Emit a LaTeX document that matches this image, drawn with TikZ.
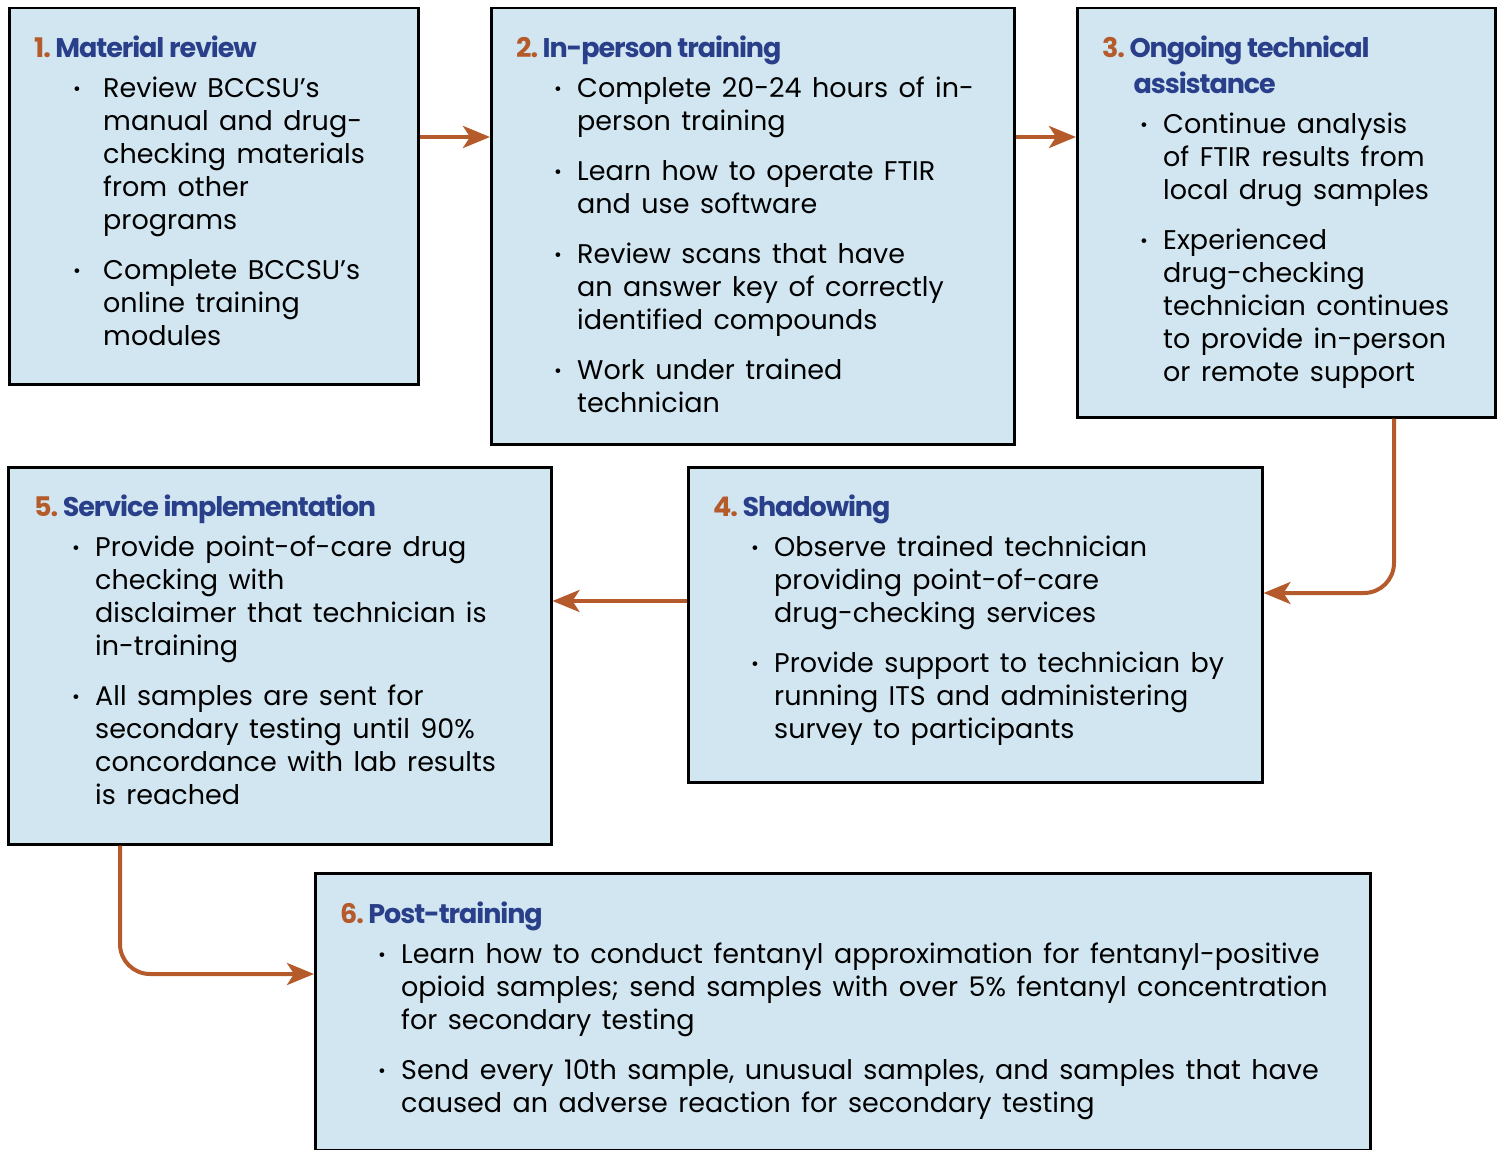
\documentclass[tikz,border=0pt]{standalone}
\usepackage{fontspec}
\setmainfont{Poppins}[WordSpace=1.45]
\newfontfamily\headfont[LetterSpace=-4]{Poppins}
\usetikzlibrary{arrows.meta}

\definecolor{boxblue}{HTML}{D1E6F1}
\definecolor{headblue}{HTML}{2A3F8A}
\definecolor{rust}{HTML}{B55A2A}

% heading: rust number, blue title
\newcommand\heading[2]{{\headfont\bfseries\color{rust}#1}\,{\headfont\bfseries\color{headblue}#2}}
% bullet lines and their continuation lines
\newcommand\dotmark{{\fontsize{19}{19}\selectfont\raisebox{2.5pt}{•}}}
\def\bx{38pt}\def\bw{23pt}
\newcommand\itm[1]{\hspace*{\bx}\makebox[\bw][l]{\dotmark}#1}
\newcommand\cont[1]{\hspace*{\dimexpr\bx+\bw\relax}#1}

\begin{document}
\begin{tikzpicture}[x=1pt,y=-1pt,
	stage/.style={draw=black,line width=2.5pt,fill=boxblue,anchor=north west,inner sep=0pt},
	body/.style={anchor=north west,inner sep=0pt,align=left,font=\fontsize{27}{33}\selectfont},
	flow/.style={draw=rust,line width=4pt,rounded corners=30pt,-{Stealth[length=27pt,width=22pt,inset=7pt]}}]
	\useasboundingbox (0,0) rectangle (1501,1150);

	% the six stages
	\node[stage,minimum width=409,minimum height=376] (s1) at (8,7) {};
	\node[stage,minimum width=523,minimum height=436] (s2) at (490,7) {};
	\node[stage,minimum width=418,minimum height=409] (s3) at (1076,7) {};
	\node[stage,minimum width=574,minimum height=315] (s4) at (687,466) {};
	\node[stage,minimum width=543,minimum height=377] (s5) at (7,466) {};
	\node[stage,minimum width=1055,minimum height=277] (s6) at (314,872) {};

	\def\bx{39pt}\def\bw{30pt}
	\node[body] (t1) at (34,36) {\heading{1.}{Material review}\\[7pt]
		\itm{Review BCCSU’s}\\ \cont{manual and drug-}\\ \cont{checking materials}\\ \cont{from other}\\ \cont{programs}\\[17pt]
		\itm{Complete BCCSU’s}\\ \cont{online training}\\ \cont{modules}};
	\def\bx{38pt}\def\bw{23pt}
	\node[body] (t2) at (516,36) {\heading{2.}{In-person training}\\[7pt]
		\itm{Complete 20-24 hours of in-}\\ \cont{person training}\\[17pt]
		\itm{Learn how to operate FTIR}\\ \cont{and use software}\\[17pt]
		\itm{Review scans that have}\\ \cont{an answer key of correctly}\\ \cont{identified compounds}\\[17pt]
		\itm{Work under trained}\\ \cont{technician}};
	\node[body] (t3) at (1102,36) {\heading{3.}{Ongoing technical}\\[3pt]
		\hphantom{\heading{3.}{}}\hspace{4pt}{\headfont\bfseries\color{headblue}assistance}\\[7pt]
		\itm{Continue analysis}\\ \cont{of FTIR results from}\\ \cont{local drug samples}\\[17pt]
		\itm{Experienced}\\ \cont{drug-checking}\\ \cont{technician continues}\\ \cont{to provide in-person}\\ \cont{or remote support}};
	\node[body] (t4) at (713,495) {\heading{4.}{Shadowing}\\[7pt]
		\itm{Observe trained technician}\\ \cont{providing point-of-care}\\ \cont{drug-checking services}\\[17pt]
		\itm{Provide support to technician by}\\ \cont{running ITS and administering}\\ \cont{survey to participants}};
	\node[body] (t5) at (34,495) {\heading{5.}{Service implementation}\\[7pt]
		\itm{Provide point-of-care drug}\\ \cont{checking with}\\ \cont{disclaimer that technician is}\\ \cont{in-training}\\[17pt]
		\itm{All samples are sent for}\\ \cont{secondary testing until 90\%}\\ \cont{concordance with lab results}\\ \cont{is reached}};
	\node[body] (t6) at (340,902) {\heading{6.}{Post-training}\\[7pt]
		\itm{Learn how to conduct fentanyl approximation for fentanyl-positive}\\ \cont{opioid samples; send samples with over 5\% fentanyl concentration}\\ \cont{for secondary testing}\\[17pt]
		\itm{Send every 10th sample, unusual samples, and samples that have}\\ \cont{caused an adverse reaction for secondary testing}};

	% connectors
	\coordinate (r12) at (0,137);
	\coordinate (r34) at (1394,593);
	\coordinate (r45) at (0,601);
	\coordinate (r56) at (120,974);
	\draw[flow] (s1.east |- r12) -- (s2.west |- r12);
	\draw[flow] (s2.east |- r12) -- (s3.west |- r12);
	\draw[flow] (s3.south -| r34) |- (s4.east |- r34);
	\draw[flow] (s4.west |- r45) -- (s5.east |- r45);
	\draw[flow] (s5.south -| r56) |- (s6.west |- r56);
\end{tikzpicture}
\end{document}
